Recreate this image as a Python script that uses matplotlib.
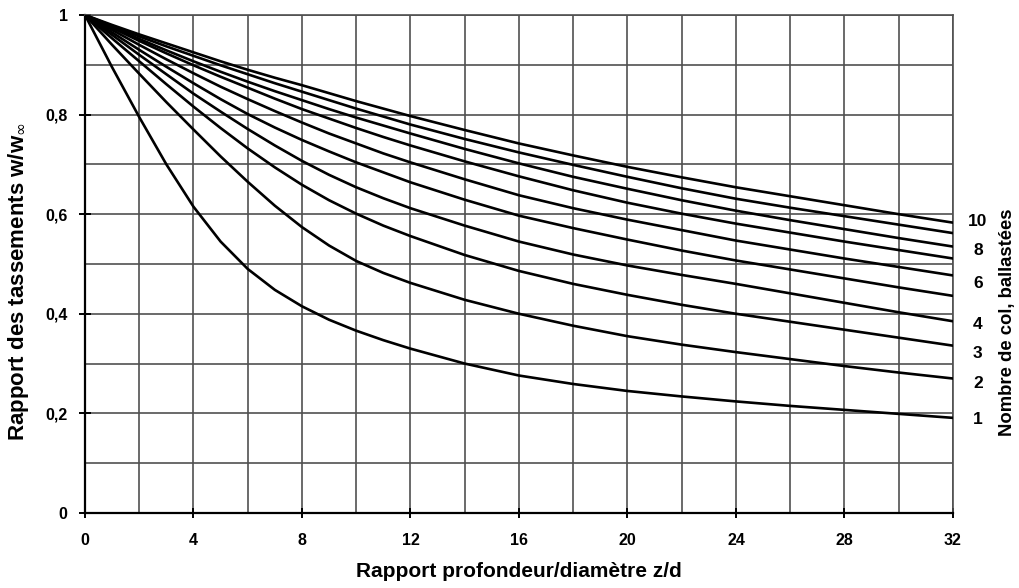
import numpy as np
import matplotlib
matplotlib.use('Agg')
import matplotlib.pyplot as plt

plt.rcParams['font.family'] = ['Liberation Sans', 'DejaVu Sans']

zd = [0, 1, 2, 3, 4, 5, 6, 7, 8, 9, 10, 11, 12, 14, 16, 18, 20, 22, 24, 26, 28, 30, 32]

# w/w_oo for each number of stone columns (1..10)
c1 = [1, .895, .795, .700, .615, .545, .490, .448, .415, .388, .366, .347, .330,
      .300, .276, .259, .245, .234, .224, .215, .207, .199, .191]
c2 = [1, .940, .882, .825, .770, .716, .665, .617, .574, .537, .506, .482, .462,
      .428, .400, .376, .355, .338, .323, .309, .295, .282, .270]
c3 = [1, .953, .907, .861, .816, .773, .732, .694, .659, .628, .601, .577, .556,
      .518, .486, .460, .438, .418, .400, .384, .368, .352, .336]
c4 = [1, .960, .920, .881, .842, .806, .771, .738, .707, .679, .654, .632, .612,
      .577, .545, .519, .497, .478, .460, .441, .422, .403, .385]
c5 = [1, .965, .930, .896, .863, .831, .801, .774, .749, .726, .704, .684, .664,
      .629, .597, .572, .549, .527, .507, .489, .471, .453, .436]
c6 = [1, .970, .940, .911, .883, .856, .831, .807, .784, .762, .742, .722, .704,
      .670, .638, .612, .589, .568, .547, .529, .511, .494, .477]
c7 = [1, .974, .948, .923, .899, .876, .854, .832, .811, .792, .773, .755, .738,
      .706, .676, .648, .623, .601, .581, .563, .545, .528, .511]
c8 = [1, .976, .952, .929, .907, .886, .866, .847, .829, .811, .794, .778, .762,
      .731, .702, .675, .651, .628, .607, .588, .570, .552, .535]
c9 = [1, .978, .957, .937, .918, .899, .881, .863, .846, .829, .812, .796, .780,
      .751, .724, .699, .675, .652, .631, .613, .596, .579, .562]
c10 = [1, .980, .961, .943, .925, .907, .890, .874, .859, .843, .827, .812, .797,
       .769, .742, .718, .695, .674, .654, .636, .618, .600, .583]
curves = [c1, c2, c3, c4, c5, c6, c7, c8, c9, c10]

# labels on the right side
lab_txt = ['10', '8', '6', '4', '3', '2', '1']
lab_y = [0.585, 0.528, 0.461, 0.378, 0.321, 0.260, 0.187]

xticks = [0, 4, 8, 12, 16, 20, 24, 28, 32]
yticks = [0, 0.2, 0.4, 0.6, 0.8, 1]
ytick_lab = ['0', '0,2', '0,4', '0,6', '0,8', '1']

fig = plt.figure(figsize=(10.19, 5.88), dpi=100)
ax = fig.add_axes([0.0834, 0.1276, 0.8518, 0.8469])

# grid
for gx in np.arange(2, 33, 2):
    ax.axvline(gx, color='#505050', lw=1.2, zorder=1)
for gy in np.arange(0.1, 1.01, 0.1):
    ax.axhline(gy, color='#505050', lw=1.2, zorder=1)

for c in curves:
    ax.plot(zd, c, color='black', lw=1.9, zorder=3, solid_capstyle='round')

ax.set_xlim(0, 32)
ax.set_ylim(0, 1)
for s in ['top', 'right']:
    ax.spines[s].set_color('#505050')
    ax.spines[s].set_linewidth(1.2)
for s in ['left', 'bottom']:
    ax.spines[s].set_linewidth(1.6)

ax.set_xticks(xticks)
ax.set_xticklabels([str(t) for t in xticks], fontweight='bold', fontsize=11.5)
ax.set_yticks(yticks)
ax.set_yticklabels(ytick_lab, fontweight='bold', fontsize=11.5)
ax.tick_params(axis='x', direction='inout', length=7, width=1.4, pad=11)
ax.tick_params(axis='y', direction='inout', length=9, width=1.4, pad=8)

ax.set_xlabel('Rapport profondeur/diamètre z/d', fontsize=15, fontweight='bold')
ax.xaxis.set_label_coords(0.5, -0.098)
ax.set_ylabel(r'Rapport des tassements w/w$_{\infty}$', fontsize=16, fontweight='bold')
ax.yaxis.set_label_coords(-0.077, 0.464)
ax.yaxis.label.set_verticalalignment('center')

for t, y in zip(lab_txt, lab_y):
    ax.text(32.92, y, t, ha='center', va='center', fontsize=12.5, fontweight='bold', clip_on=False)

fig.text(0.989, 0.452, 'Nombre de col, ballastées', rotation=90, ha='center', va='center',
         fontsize=13.3, fontweight='bold')

fig.savefig('out.png', dpi=100)
